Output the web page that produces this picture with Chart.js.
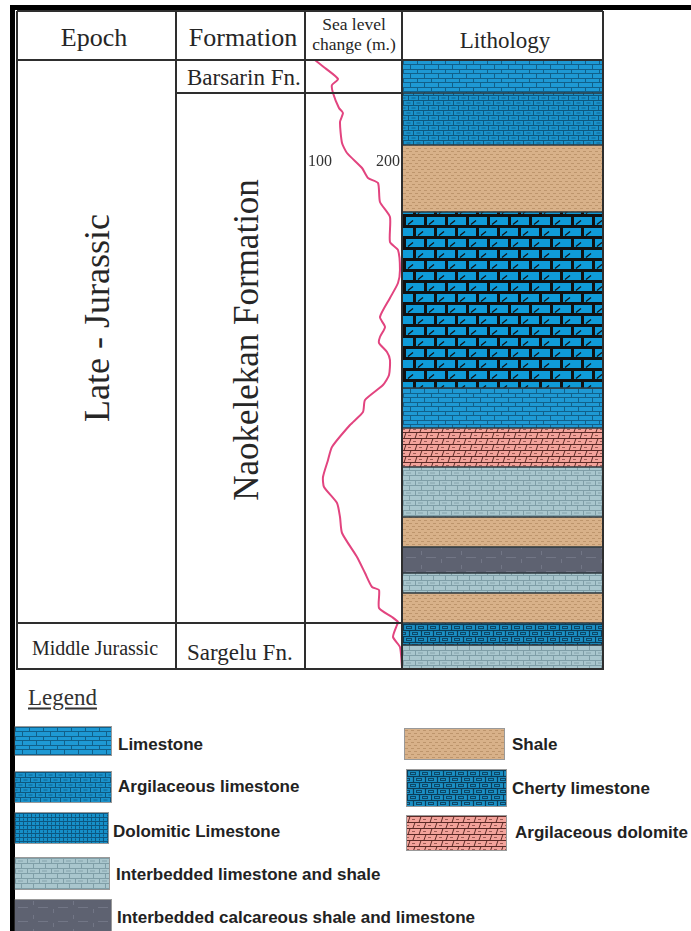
<!DOCTYPE html>
<html>
<head>
<meta charset="utf-8">
<title>Naokelekan Formation – stratigraphic column</title>
<script src="https://cdn.jsdelivr.net/npm/chart.js@4.4.1/dist/chart.umd.min.js"></script>
<style>
  html, body { margin: 0; padding: 0; background: #fff; }
  body { width: 691px; height: 931px; position: relative; overflow: hidden;
         font-family: "Liberation Serif", "Times New Roman", serif; color: #262626; }
  .blk { position: absolute; background: #000; }
  .ln  { position: absolute; background: #2e2e2e; z-index: 5; }
  .t   { position: absolute; white-space: nowrap; line-height: 1; transform: translate(-50%, -50%); }
  .tl  { position: absolute; white-space: nowrap; line-height: 1; transform: translateY(-50%); }
  .rot { position: absolute; white-space: nowrap; line-height: 1; transform: translate(-50%, -50%) rotate(-90deg); }
  canvas.chart { position: absolute; }
  .sw  { position: absolute; box-sizing: border-box; border: 1px solid rgba(70,70,70,0.55); }
  .lg  { position: absolute; white-space: nowrap; line-height: 1; transform: translateY(-50%);
         font-family: "Liberation Sans", Arial, sans-serif; font-weight: bold; font-size: 17px; color: #222; }
</style>
</head>
<body>

<!-- outer frame -->
<div class="blk" style="left:10px;top:5px;width:681px;height:5px;"></div>
<div class="blk" style="left:10px;top:5px;width:5px;height:926px;"></div>

<!-- charts -->
<canvas id="lith" class="chart" width="200" height="609" style="left:403px;top:60px;z-index:1;"></canvas>
<canvas id="sea" class="chart" width="100" height="609" style="left:305px;top:60px;z-index:3;"></canvas>

<!-- header texts -->
<div class="t" style="left:94px;top:38px;font-size:26px;">Epoch</div>
<div class="t" style="left:243px;top:38px;font-size:26px;">Formation</div>
<div class="t" style="left:354px;top:25px;font-size:17.5px;">Sea level</div>
<div class="t" style="left:354px;top:45px;font-size:17.5px;">change (m.)</div>
<div class="t" style="left:505px;top:40px;font-size:23px;">Lithology</div>

<!-- unit names -->
<div class="rot" style="left:97px;top:318px;font-size:36px;">Late - Jurassic</div>
<div class="t" style="left:95px;top:648px;font-size:20px;">Middle Jurassic</div>
<div class="tl" style="left:187px;top:77px;font-size:23px;">Barsarin Fn.</div>
<div class="rot" style="left:246px;top:340px;font-size:35px;">Naokelekan Formation</div>
<div class="tl" style="left:187px;top:652px;font-size:23px;">Sargelu Fn.</div>

<!-- legend -->
<div class="tl" style="left:28px;top:697px;font-size:23px;text-decoration:underline;text-underline-offset:3px;color:#333;">Legend</div>

<canvas class="sw" data-kind="limestone" width="96" height="28" style="left:14px;top:726px;"></canvas>
<div class="lg" style="left:118px;top:744px;">Limestone</div>
<canvas class="sw" data-kind="argLimestone" width="96" height="30" style="left:14px;top:771px;"></canvas>
<div class="lg" style="left:118px;top:786px;">Argilaceous limestone</div>
<canvas class="sw" data-kind="dolomiticSmall" width="93" height="30" style="left:14px;top:812px;"></canvas>
<div class="lg" style="left:113px;top:831px;">Dolomitic Limestone</div>
<canvas class="sw" data-kind="interLS" width="94" height="31" style="left:14px;top:857px;"></canvas>
<div class="lg" style="left:116px;top:874px;">Interbedded limestone and shale</div>
<canvas class="sw" data-kind="interCSL" width="96" height="32" style="left:14px;top:899px;"></canvas>
<div class="lg" style="left:117px;top:917px;">Interbedded calcareous shale and limestone</div>

<canvas class="sw" data-kind="shale" width="99" height="30" style="left:404px;top:728px;"></canvas>
<div class="lg" style="left:512px;top:744px;">Shale</div>
<canvas class="sw" data-kind="cherty" width="99" height="36" style="left:406px;top:769px;"></canvas>
<div class="lg" style="left:512px;top:788px;">Cherty limestone</div>
<canvas class="sw" data-kind="argDolomite" width="99" height="34" style="left:406px;top:815px;"></canvas>
<div class="lg" style="left:515px;top:832px;">Argilaceous dolomite</div>

<script>
// ---- section units (depth below top of column, relative units) ----
const sectionBase = 152.25;
const epochNames = ['Late - Jurassic', 'Middle Jurassic'];
const epochTop = [0, 140.75];
const formationNames = ['Barsarin Fn.', 'Naokelekan Formation', 'Sargelu Fn.'];
const formationTop = [0, 8.25, 140.75];

// ---- lithology layers ----
const lithTop  = [0, 8.25, 21.25, 38, 82, 92, 101.75, 114.25, 121.75, 128.25, 133.25, 140.75, 146.25];
const lithBase = [8.25, 21.25, 38, 82, 92, 101.75, 114.25, 121.75, 128.25, 133.25, 140.75, 146.25, 152.25];
const lithType = ['limestone', 'argLimestone', 'shale', 'dolomitic', 'limestone', 'argDolomite',
                  'interLS', 'shale', 'interCSL', 'interLS', 'shale', 'cherty', 'interLS'];

// ---- sea level curve (m) ----
const seaDepth = [0, 2, 4.75, 6.25, 8.25, 12, 13.25, 15.5, 20.75, 23.25, 27, 29.5, 30.75, 35.5,
  39.25, 45.5, 47.5, 52.5, 55.75, 59.5, 64.25, 66.75, 69.25, 70.75, 73, 75, 78.75, 81.25, 85, 88,
  91.25, 96.75, 100, 104.25, 106.75, 110.75, 114.25, 118.25, 124.25, 128.25, 131.75, 132.5, 137,
  139.25, 140.5, 141.25, 144.25, 146.75, 151.75];
const seaLevel = [92.6, 107.4, 126.5, 117.6, 119.1, 127.9, 133.8, 129.4, 132.4, 139.7, 161.8, 170.6,
  185.3, 188.2, 202.9, 202.9, 214.7, 217.6, 214.7, 202.9, 188.2, 195.6, 188.2, 186.8, 198.5, 202.9,
  201.5, 192.6, 166.2, 163.2, 144.1, 117.6, 111.8, 104.4, 105.9, 125.0, 129.4, 132.4, 154.4, 166.2,
  176.5, 186.8, 186.8, 205.9, 214.7, 213.2, 207.4, 217.6, 220.6];
const seaTicks = [100, 200];
const seaTickDepth = 25.5;

// ---- fill patterns ----
function tile(w, h, paint) {
  const c = document.createElement('canvas');
  c.width = w; c.height = h;
  const g = c.getContext('2d');
  paint(g, w, h);
  return g.createPattern(c, 'repeat');
}
function hl(g, y, x0, x1) { g.beginPath(); g.moveTo(x0, y); g.lineTo(x1, y); g.stroke(); }
function vl(g, x, y0, y1) { g.beginPath(); g.moveTo(x, y0); g.lineTo(x, y1); g.stroke(); }
function seg(g, x0, y0, x1, y1) { g.beginPath(); g.moveTo(x0, y0); g.lineTo(x1, y1); g.stroke(); }

const patterns = {
  limestone: tile(14, 9, (g, w, h) => {
    g.fillStyle = '#1e99d4'; g.fillRect(0, 0, w, h);
    g.strokeStyle = '#11608a'; g.lineWidth = 1;
    hl(g, 0.5, 0, w); hl(g, 4.5, 0, w);
    vl(g, 0.5, 0, 4.5); vl(g, 7.5, 4.5, h);
  }),
  argLimestone: tile(20, 10, (g, w, h) => {
    g.fillStyle = '#1a92cb'; g.fillRect(0, 0, w, h);
    g.strokeStyle = '#0e587f'; g.lineWidth = 1;
    hl(g, 0.5, 0, w); hl(g, 5.5, 0, w);
    vl(g, 0.5, 0, 5.5); vl(g, 10.5, 0, 5.5);
    vl(g, 5.5, 5.5, h); vl(g, 15.5, 5.5, h);
    g.strokeStyle = 'rgba(14,88,127,0.8)';
    hl(g, 3, 3.5, 7.5); hl(g, 3, 13.5, 17.5);
    hl(g, 8, 8.5, 12.5); hl(g, 8, 18.5, 20); hl(g, 8, 0, 2.5);
  }),
  shale: tile(12, 6, (g, w, h) => {
    g.fillStyle = '#d8b189'; g.fillRect(0, 0, w, h);
    g.strokeStyle = 'rgba(150,108,66,0.4)'; g.lineWidth = 1;
    hl(g, 1.5, 0, 3); hl(g, 1.5, 6, 9);
    hl(g, 4.5, 3, 6); hl(g, 4.5, 9, 12);
  }),
  dolomitic: tile(42, 22, (g, w, h) => {
    g.fillStyle = '#0f9bd8'; g.fillRect(0, 0, w, h);
    g.fillStyle = '#111';
    g.fillRect(0, 0, w, 3); g.fillRect(0, 11, w, 3);
    g.fillRect(0, 0, 3, 11); g.fillRect(21, 0, 3, 11);
    g.fillRect(10, 11, 3, 11); g.fillRect(31, 11, 3, 11);
    g.strokeStyle = '#111'; g.lineWidth = 1.2;
    [3, 24].forEach(bx => seg(g, bx + 2, 10.5, bx + 7, 6.5));
    [13, 34, -8].forEach(bx => seg(g, bx + 2, 21.5, bx + 7, 17.5));
  }),
  dolomiticSmall: tile(16, 8, (g, w, h) => {
    g.fillStyle = '#1690c9'; g.fillRect(0, 0, w, h);
    g.strokeStyle = '#0d5780'; g.lineWidth = 1;
    hl(g, 0.5, 0, w); hl(g, 4.5, 0, w);
    vl(g, 0.5, 0, 4.5); vl(g, 8.5, 0, 4.5);
    vl(g, 4.5, 4.5, h); vl(g, 12.5, 4.5, h);
    vl(g, 4.5, 1.5, 3.5); vl(g, 12.5, 1.5, 3.5);
    vl(g, 0.5, 5.5, 7.5); vl(g, 8.5, 5.5, 7.5);
  }),
  argDolomite: tile(22, 12, (g, w, h) => {
    g.fillStyle = '#f3a39b'; g.fillRect(0, 0, w, h);
    g.strokeStyle = '#5b2a26'; g.lineWidth = 1;
    hl(g, 0.5, 0, w); hl(g, 6.5, 0, w);
    [1, 12].forEach(x => seg(g, x, 6.5, x + 2, 0.5));
    [6, 17].forEach(x => seg(g, x, 12, x + 2, 6.5));
    g.strokeStyle = 'rgba(120,60,55,0.7)';
    hl(g, 3.5, 5, 8); hl(g, 3.5, 16, 19);
    hl(g, 9.5, 10, 13); hl(g, 9.5, 21, 22); hl(g, 9.5, 0, 2);
  }),
  interLS: tile(24, 10, (g, w, h) => {
    g.fillStyle = '#a9c6cd'; g.fillRect(0, 0, w, h);
    g.strokeStyle = '#7f9ea7'; g.lineWidth = 1;
    hl(g, 0.5, 0, w); hl(g, 5.5, 0, w);
    vl(g, 0.5, 0, 5.5); vl(g, 12.5, 0, 5.5);
    vl(g, 6.5, 5.5, h); vl(g, 18.5, 5.5, h);
    g.strokeStyle = 'rgba(110,140,150,0.6)';
    hl(g, 3, 3, 8); hl(g, 3, 15, 20);
  }),
  interCSL: tile(40, 14, (g, w, h) => {
    g.fillStyle = '#5e6271'; g.fillRect(0, 0, w, h);
    g.strokeStyle = 'rgba(145,150,168,0.4)'; g.lineWidth = 1;
    hl(g, 7.5, 3, 13); hl(g, 7.5, 23, 33);
    vl(g, 18.5, 1, 5); vl(g, 38.5, 9, 13);
  }),
  cherty: tile(24, 12, (g, w, h) => {
    g.fillStyle = '#1b8fc4'; g.fillRect(0, 0, w, h);
    g.strokeStyle = '#0b3c58'; g.lineWidth = 1.2;
    hl(g, 0.5, 0, w); hl(g, 6.5, 0, w);
    vl(g, 0.5, 0, 6.5); vl(g, 12.5, 0, 6.5);
    vl(g, 6.5, 6.5, h); vl(g, 18.5, 6.5, h);
    g.lineWidth = 1; g.strokeStyle = 'rgba(11,60,88,0.85)';
    g.strokeRect(3.5, 2.5, 5, 2); g.strokeRect(15.5, 2.5, 5, 2);
    g.strokeRect(9.5, 8.5, 5, 2); g.strokeRect(21.5, 8.5, 5, 2); g.strokeRect(-2.5, 8.5, 5, 2);
  })
};

// ---- lithology column: floating bars, one per layer ----
const lithChart = new Chart(document.getElementById('lith'), {
  type: 'bar',
  data: {
    labels: ['Lithology'],
    datasets: [{
      data: lithTop.map((t, i) => ({ x: 'Lithology', y: [t, lithBase[i]] })),
      backgroundColor: lithType.map(k => patterns[k]),
      borderColor: '#2f3a40',
      borderWidth: { top: 1, bottom: 1, left: 0, right: 0 },
      borderSkipped: false,
      categoryPercentage: 1,
      barPercentage: 1
    }]
  },
  options: {
    responsive: false, animation: false, events: [],
    layout: { padding: 0 },
    plugins: { legend: { display: false }, tooltip: { enabled: false } },
    scales: {
      x: { display: false },
      y: { type: 'linear', min: 0, max: sectionBase, reverse: true, display: false }
    }
  }
});

// ---- sea level curve ----
const seaTickLabels = {
  id: 'seaTickLabels',
  beforeDatasetsDraw(chart) {
    const { ctx, scales: { x, y } } = chart;
    ctx.save();
    ctx.font = '16px "Liberation Serif", serif';
    ctx.fillStyle = '#333';
    ctx.textAlign = 'center';
    ctx.textBaseline = 'middle';
    seaTicks.forEach(v => ctx.fillText(String(v), x.getPixelForValue(v), y.getPixelForValue(seaTickDepth)));
    ctx.restore();
  }
};

new Chart(document.getElementById('sea'), {
  type: 'scatter',
  data: {
    datasets: [{
      data: seaDepth.map((d, i) => ({ x: seaLevel[i], y: d })),
      showLine: true,
      borderColor: '#e2447f',
      borderWidth: 2,
      pointRadius: 0,
      tension: 0.2,
      clip: false
    }]
  },
  options: {
    responsive: false, animation: false, events: [],
    layout: { padding: 0 },
    plugins: { legend: { display: false }, tooltip: { enabled: false } },
    scales: {
      x: { type: 'linear', min: 77.94, max: 225, display: false },
      y: { type: 'linear', min: 0, max: sectionBase, reverse: true, display: false }
    }
  },
  plugins: [seaTickLabels]
});

// ---- table rules, placed from the depth scale ----
const yScale = lithChart.scales.y;
const colTop = 60;
const py = d => colTop + yScale.getPixelForValue(d);
function rule(x0, y0, x1, y1) {
  const el = document.createElement('div');
  el.className = 'ln';
  if (y0 === y1) {
    el.style.left = x0 + 'px'; el.style.top = (y0 - 1) + 'px';
    el.style.width = (x1 - x0) + 'px'; el.style.height = '2px';
  } else {
    el.style.left = (x0 - 1) + 'px'; el.style.top = y0 + 'px';
    el.style.width = '2px'; el.style.height = (y1 - y0) + 'px';
  }
  document.body.appendChild(el);
}
const yBottom = Math.round(py(sectionBase));
const xs = [17, 176, 305, 402, 603];
rule(17, 11, 603, 11);
rule(17, colTop, 603, colTop);
rule(17, yBottom, 603, yBottom);
xs.forEach(x => rule(x, 11, x, yBottom + 1));
formationTop.slice(1).forEach(d => {
  const y = Math.round(py(d));
  const isEpoch = epochTop.indexOf(d) > 0;
  rule(isEpoch ? 17 : 176, y, 402, y);
});

// ---- legend swatches ----
document.querySelectorAll('canvas.sw').forEach(c => {
  const g = c.getContext('2d');
  g.fillStyle = patterns[c.dataset.kind];
  g.fillRect(0, 0, c.width, c.height);
});
</script>
</body>
</html>
